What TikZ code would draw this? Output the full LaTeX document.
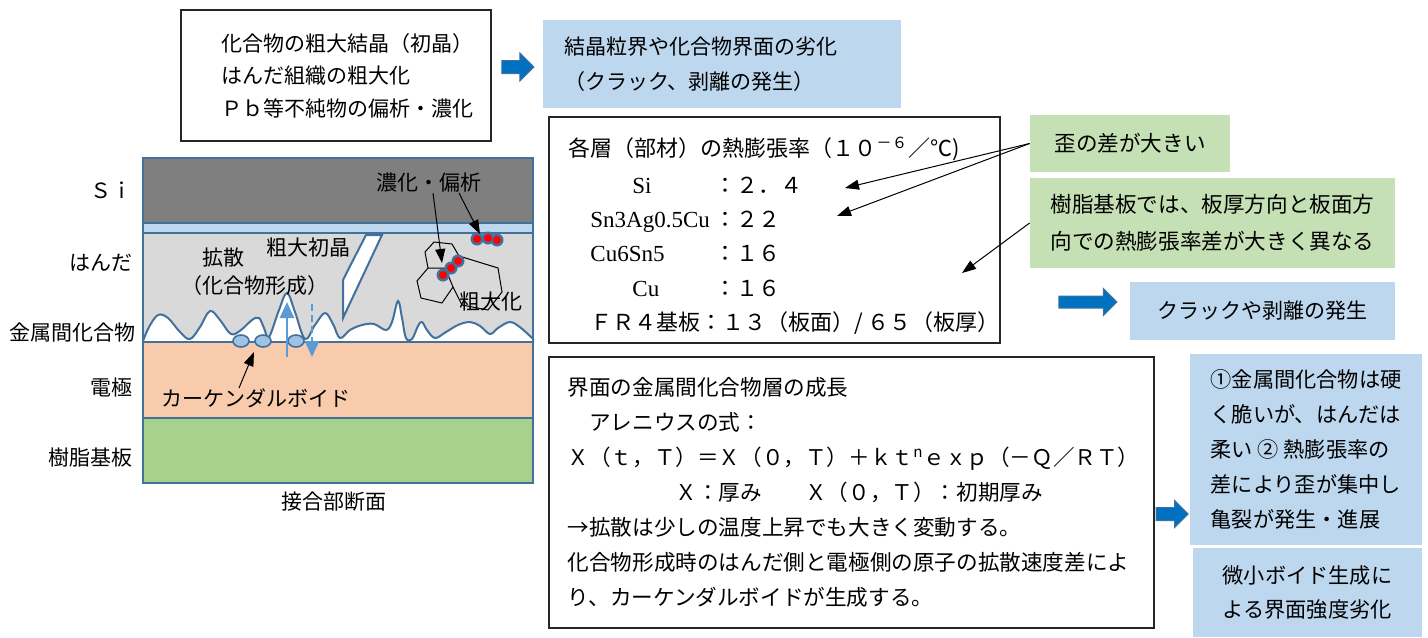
\documentclass[tikz,border=0pt]{standalone}
\usepackage{fontspec}
\setmainfont{Noto Sans CJK JP}
\newfontfamily\serifface{Liberation Serif}
\usetikzlibrary{arrows.meta, positioning, shapes.arrows, calc}

\definecolor{layeredge}{HTML}{41719C}
\definecolor{sigrey}{HTML}{7F7F7F}
\definecolor{solder}{HTML}{D9D9D9}
\definecolor{electrode}{HTML}{F8CBAD}
\definecolor{resin}{HTML}{A9D18E}
\definecolor{paleblue}{HTML}{BDD7EE}
\definecolor{voidblue}{HTML}{9DC3E6}
\definecolor{flowblue}{HTML}{5B9BD5}
\definecolor{palegreen}{HTML}{C5E0B4}
\definecolor{arrowblue}{HTML}{0070C0}

\tikzset{
  framebox/.style={rectangle, draw=black!85, line width=0.7pt, fill=white, inner sep=0pt},
  bluebox/.style={rectangle, fill=paleblue, inner sep=0pt},
  greenbox/.style={rectangle, fill=palegreen, inner sep=0pt},
  lbl/.style={inner sep=0pt, font=\fontsize{10.5}{14}\selectfont},
  para/.style={inner sep=0pt, align=left, anchor=west},
  layer/.style={draw=layeredge, line width=1pt},
  blockarrow/.style={single arrow, draw=layeredge, fill=arrowblue, line width=0.5pt,
    inner xsep=0pt, single arrow head extend=3.75pt},
  pointer/.style={-{Triangle[length=7pt,width=5pt]}, line width=0.5pt},
  flow/.style={draw=flowblue, line width=1.3pt, -{Triangle[length=8pt,width=7pt]}}
}

\begin{document}
\begin{tikzpicture}[x=0.5pt, y=-0.5pt]
  \useasboundingbox (0,0) rectangle (1428,637);

  % 断面：Si / はんだ / 金属間化合物 / 電極 / 樹脂基板
  \fill[sigrey] (143,158) rectangle (533,223);
  \fill[solder] (143,233) rectangle (533,342);
  \filldraw[fill=white, layer] (143,342) -- plot[smooth, tension=0.6] coordinates {
    (143,341) (149,327) (158,315) (168,318) (180,332) (190,339) (200,327) (210,311)
    (220,320) (231,334) (241,330) (252,320) (259,318) (264,328) (269,337) (279,310)
    (287,293) (295,312) (305,339) (315,325) (325,313) (333,324) (340,338) (350,330)
    (362,325) (374,324) (386,330) (392,322) (398,301) (402,318) (406,338) (412,339)
    (418,326) (422,322) (427,330) (435,338) (446,332) (458,325) (470,322) (480,326)
    (490,334) (498,328) (510,322) (521,328) (533,339)} -- (533,342) -- cycle;
  \draw[layer] (143,233) rectangle (533,342);
  \filldraw[fill=paleblue, layer] (143,223) rectangle (533,233);
  \draw[layer] (143,158) rectangle (533,223);
  \filldraw[fill=electrode, layer] (143,342) rectangle (533,418);
  \filldraw[fill=resin, layer] (143,418) rectangle (533,483);

  % 粗大初晶（割れ）と粗大化した結晶粒
  \filldraw[fill=white, layer] (366,235) -- (382,235) -- (343,318) -- (343,280) -- (347,272) -- cycle;
  \draw[line width=0.5pt] (425,252) -- (434,242) -- (452,244) -- (459,256) -- (451,268) -- (428,268) -- cycle;
  \draw[line width=0.5pt] (428,268) -- (417,281) -- (421,298) -- (442,303) -- (453,287) -- (446,270);
  \draw[line width=0.5pt] (459,256) -- (498,268) -- (502,292) -- (488,310) -- (462,305) -- (453,287);
  \foreach \p in {(443,275), (451,268), (458,261), (477,239), (488,238), (497,240)}
    \fill[layeredge] \p circle (6.5);
  \foreach \p in {(443,275), (451,268), (458,261), (477,239), (488,238), (497,240)}
    \fill[red] \p circle (4);

  % カーケンダルボイドと拡散
  \foreach \vx in {241, 263, 296}
    \filldraw[fill=voidblue, draw=layeredge, line width=0.8pt] (\vx,341) ellipse (8 and 6);
  \coordinate (upFrom) at (287,357);
  \coordinate (upTo) at (287,302);
  \coordinate (downFrom) at (312,304);
  \coordinate (downTo) at (312,357);
  \draw[flow] (upFrom) -- (upTo);
  \draw[flow, dash pattern=on 3.5pt off 2pt] (downFrom) -- (downTo);

  % 層の名前
  \node[lbl, anchor=east] (lblSi) at (133,190) {Ｓｉ};
  \node[lbl, anchor=east] (lblSolder) at (133,263) {はんだ};
  \node[lbl, anchor=east] (lblIMC) at (136,333) {金属間化合物};
  \node[lbl, anchor=east] (lblElectrode) at (133,388) {電極};
  \node[lbl, anchor=east] (lblResin) at (133,458) {樹脂基板};
  \node[lbl] (caption) at (334,502) {接合部断面};

  % 断面内のラベル
  \node[lbl] (segr) at (429,183) {濃化・偏析};
  \node[lbl] (primary) at (308,248) {粗大初晶};
  \node[lbl, align=left, anchor=west] (diff) at (181,272) {　拡散\\（化合物形成）};
  \node[lbl] (coarse) at (491,302) {粗大化};
  \node[lbl] (kirk) at (256,398) {カーケンダルボイド};
  \coordinate (segrTipA) at (442,263);
  \coordinate (segrTipB) at (480,234);
  \coordinate (kirkTip) at (254,352);
  \draw[pointer] ([xshift=2pt]segr.south) -- (segrTipA);
  \draw[pointer] ([xshift=15pt]segr.south) -- (segrTipB);
  \draw[pointer] ([xshift=-8.5pt]kirk.north) -- (kirkTip);

  % 劣化の要因
  \node[framebox, minimum width=155pt, minimum height=65.5pt] (causes) at (336,75.5) {};
  \node[para, font=\fontsize{10.5}{16.25}\selectfont, right=20.5pt of causes.west] (causestext)
    {化合物の粗大結晶（初晶）\\はんだ組織の粗大化\\Ｐｂ等不純物の偏析・濃化};
  \node[bluebox, minimum width=179pt, minimum height=44pt] (effect) at (722,64) {};
  \node[para, font=\fontsize{10.5}{17.5}\selectfont, right=10.5pt of effect.west] (effecttext)
    {結晶粒界や化合物界面の劣化\\（クラック、剥離の発生）};
  \node[blockarrow, minimum height=16pt, inner ysep=3pt, left=4pt of effect, yshift=-1.5pt] (arrA) {};

  % 熱膨張率
  \node[framebox, minimum width=225.5pt, minimum height=113pt] (cte) at (774.5,230) {};
  \node[inner sep=0pt, anchor=base west, font=\fontsize{11}{13}\selectfont] (ctehead) at (568,156)
    {各層（部材）の熱膨張率（１０\textsuperscript{－６}／℃)};
  \node[inner sep=0pt, anchor=base west, font=\serifface\fontsize{11.5}{13}\selectfont] (rowSi) at (632,193) {Si};
  \node[inner sep=0pt, anchor=base west, font=\fontsize{11}{13}\selectfont] (valSi) at (714,193) {：２．４};
  \node[inner sep=0pt, anchor=base west, font=\serifface\fontsize{11.5}{13}\selectfont] (rowSolder) at (590,227) {Sn3Ag0.5Cu};
  \node[inner sep=0pt, anchor=base west, font=\fontsize{11}{13}\selectfont] (valSolder) at (714,227) {：２２};
  \node[inner sep=0pt, anchor=base west, font=\serifface\fontsize{11.5}{13}\selectfont] (rowIMC) at (590,261) {Cu6Sn5};
  \node[inner sep=0pt, anchor=base west, font=\fontsize{11}{13}\selectfont] (valIMC) at (714,261) {：１６};
  \node[inner sep=0pt, anchor=base west, font=\serifface\fontsize{11.5}{13}\selectfont] (rowCu) at (632,296) {Cu};
  \node[inner sep=0pt, anchor=base west, font=\fontsize{11}{13}\selectfont] (valCu) at (714,296) {：１６};
  \node[inner sep=0pt, anchor=base west, font=\fontsize{11}{13}\selectfont] (rowFR) at (590,330)
    {ＦＲ４基板：１３（板面）/ ６５（板厚）};

  \node[greenbox, minimum width=100pt, minimum height=28.5pt, font=\fontsize{10.8}{14}\selectfont] (strain) at (1130,143.5) {歪の差が大きい};
  \node[greenbox, minimum width=182.5pt, minimum height=45pt, align=center, font=\fontsize{10.8}{18.5}\selectfont] (resinnote) at (1212.5,223)
    {樹脂基板では、板厚方向と板面方\\向での熱膨張率差が大きく異なる};
  \coordinate (tipSi) at (845,188);
  \coordinate (tipSolder) at (837,216);
  \coordinate (tipCu) at (962,273);
  \draw[pointer] (strain.west) -- (tipSi);
  \draw[pointer] (strain.west) -- (tipSolder);
  \draw[pointer] (resinnote.west) -- (tipCu);

  \node[bluebox, minimum width=132.5pt, minimum height=29pt, font=\fontsize{10.5}{14}\selectfont] (crackbox) at (1262.5,311) {クラックや剥離の発生};
  \node[blockarrow, minimum height=29pt, inner ysep=2.75pt, left=6pt of crackbox, yshift=4.5pt] (arrB) {};

  % 金属間化合物層の成長
  \node[framebox, minimum width=302.5pt, minimum height=135.5pt] (growth) at (851.5,492.5) {};
  \node[para, font=\fontsize{10.8}{17.5}\selectfont, right=9.5pt of growth.west] (growthtext)
    {界面の金属間化合物層の成長\\
     　アレニウスの式：\\
     Ｘ（ｔ，Ｔ）＝Ｘ（０，Ｔ）＋ｋｔ\textsuperscript{n}ｅｘｐ（－Ｑ／ＲＴ）\\
     　　　　　Ｘ：厚み　　Ｘ（０，Ｔ）：初期厚み\\
     →拡散は少しの温度上昇でも大きく変動する。\\
     化合物形成時のはんだ側と電極側の原子の拡散速度差によ\\
     り、カーケンダルボイドが生成する。};
  \node[blockarrow, minimum height=16pt, inner ysep=3pt, single arrow head extend=3.5pt, right=0.5pt of growth, yshift=-10.75pt] (arrC) {};

  \node[bluebox, minimum width=116pt, minimum height=95.5pt, align=left, font=\fontsize{10.6}{17.5}\selectfont] (mech) at (1306,449.5)
    {①金属間化合物は硬\\く脆いが、はんだは\\柔い ② 熱膨張率の\\差により歪が集中し\\亀裂が発生・進展};
  \node[bluebox, minimum width=114.5pt, minimum height=44.5pt, align=left, font=\fontsize{10.6}{17}\selectfont] (voidnote) at (1307.5,592.5)
    {微小ボイド生成に\\よる界面強度劣化};
\end{tikzpicture}
\end{document}
